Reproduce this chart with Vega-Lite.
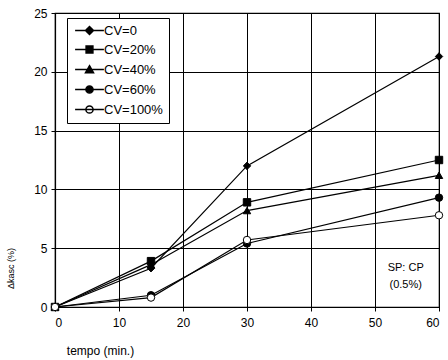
{
  "$schema": "https://vega.github.io/schema/vega-lite/v6.json",
  "width": 384,
  "height": 294,
  "autosize": {"type": "none"},
  "padding": {"left": 55, "top": 13, "right": 9, "bottom": 53},
  "background": "white",
  "config": {
    "font": "Liberation Sans",
    "view": {"stroke": "black", "strokeWidth": 1.2},
    "axis": {"gridColor": "black", "gridOpacity": 1, "gridWidth": 1, "domainColor": "black", "tickColor": "black", "labelColor": "black", "titleColor": "black", "labelFontSize": 12, "tickSize": 4, "domainWidth": 1.2}
  },
  "data": {"values": [
    {"t": 0, "v": 0, "cv": "CV=0"}, {"t": 15, "v": 3.3, "cv": "CV=0"}, {"t": 30, "v": 12.0, "cv": "CV=0"}, {"t": 60, "v": 21.3, "cv": "CV=0"},
    {"t": 0, "v": 0, "cv": "CV=20%"}, {"t": 15, "v": 3.9, "cv": "CV=20%"}, {"t": 30, "v": 8.9, "cv": "CV=20%"}, {"t": 60, "v": 12.5, "cv": "CV=20%"},
    {"t": 0, "v": 0, "cv": "CV=40%"}, {"t": 15, "v": 3.6, "cv": "CV=40%"}, {"t": 30, "v": 8.2, "cv": "CV=40%"}, {"t": 60, "v": 11.2, "cv": "CV=40%"},
    {"t": 0, "v": 0, "cv": "CV=60%"}, {"t": 15, "v": 1.0, "cv": "CV=60%"}, {"t": 30, "v": 5.4, "cv": "CV=60%"}, {"t": 60, "v": 9.3, "cv": "CV=60%"},
    {"t": 0, "v": 0, "cv": "CV=100%"}, {"t": 15, "v": 0.8, "cv": "CV=100%"}, {"t": 30, "v": 5.7, "cv": "CV=100%"}, {"t": 60, "v": 7.8, "cv": "CV=100%"}
  ]},
  "encoding": {
    "x": {"field": "t", "type": "quantitative", "scale": {"domain": [0, 60], "nice": false}, "axis": {"values": [0, 10, 20, 30, 40, 50, 60], "title": "tempo (min.)", "titleFontSize": 12, "titleFontWeight": "normal", "titleX": 45, "titleY": 43, "titleBaseline": "middle", "titleAnchor": "middle", "labelPadding": 6}},
    "y": {"field": "v", "type": "quantitative", "scale": {"domain": [0, 25], "nice": false}, "axis": {"values": [0, 5, 10, 15, 20, 25], "title": "Δkasc (%)", "titleFontSize": 9, "titleFontWeight": "normal", "titleX": -45, "titleY": 255, "titleAngle": -90, "titleAlign": "center", "titleBaseline": "middle", "labelPadding": 4}}
  },
  "layer": [
    {
      "mark": {"type": "line", "color": "black", "strokeWidth": 1.2},
      "encoding": {"detail": {"field": "cv"}}
    },
    {
      "mark": {"type": "point", "filled": false, "stroke": "black", "strokeWidth": 1, "size": 55, "opacity": 1},
      "encoding": {
        "shape": {"field": "cv", "type": "nominal", "scale": {"domain": ["CV=0", "CV=20%", "CV=40%", "CV=60%", "CV=100%"], "range": ["diamond", "square", "triangle-up", "circle", "circle"]}, "legend": null},
        "fill": {"field": "cv", "type": "nominal", "scale": {"domain": ["CV=0", "CV=20%", "CV=40%", "CV=60%", "CV=100%"], "range": ["black", "black", "black", "black", "white"]}, "legend": null}
      }
    },
    {
      "transform": [{"filter": "datum.t < -100"}],
      "mark": {"type": "point", "filled": false, "stroke": "black", "strokeWidth": 1, "size": 64, "opacity": 1},
      "encoding": {
        "shape": {"field": "cv", "type": "nominal", "title": null, "scale": {"domain": ["CV=0", "CV=20%", "CV=40%", "CV=60%", "CV=100%"], "range": [
          "M-3.6,0H3.6M0,-1L1,0L0,1L-1,0Z",
          "M-3.6,0H3.6M-0.85,-0.85H0.85V0.85H-0.85Z",
          "M-3.6,0H3.6M0,-0.95L1,0.8H-1Z",
          "M-3.6,0H3.6M-0.9,0A0.9,0.9,0,1,0,0.9,0A0.9,0.9,0,1,0,-0.9,0Z",
          "M-3.6,0H3.6M-0.9,0A0.9,0.9,0,1,0,0.9,0A0.9,0.9,0,1,0,-0.9,0Z"
        ]},
          "legend": {"orient": "none", "legendX": 12, "legendY": 5, "strokeColor": "black", "fillColor": "white", "padding": 6, "labelFontSize": 13, "labelColor": "black", "labelOffset": 8, "rowPadding": 5, "symbolSize": 64, "symbolOffset": 10,
            "encode": {"symbols": {"update": {"stroke": {"value": "black"}, "strokeWidth": {"value": 1.2}, "opacity": {"value": 1}}}}}},
        "fill": {"field": "cv", "type": "nominal", "title": null, "scale": {"domain": ["CV=0", "CV=20%", "CV=40%", "CV=60%", "CV=100%"], "range": ["black", "black", "black", "black", "white"]}}
      }
    },
    {
      "data": {"values": [{"t": 54.8, "v": 3.3, "label": "SP: CP"}, {"t": 54.8, "v": 1.9, "label": "(0.5%)"}]},
      "mark": {"type": "text", "fontSize": 11, "color": "black", "align": "center", "baseline": "middle"},
      "encoding": {"text": {"field": "label"}}
    }
  ],
  "resolve": {"scale": {"shape": "independent", "fill": "independent"}}
}
